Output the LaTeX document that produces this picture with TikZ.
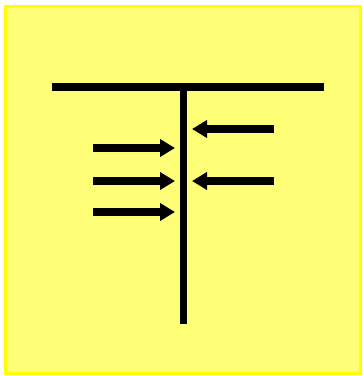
\documentclass[tikz,border=0pt]{standalone}
\usetikzlibrary{arrows.meta}
\definecolor{paleyellow}{RGB}{255,255,119}
\definecolor{rimyellow}{RGB}{255,255,0}
\begin{document}
\begin{tikzpicture}[x=1pt,y=-1pt,
    bar/.style={line width=7.5pt},
    force/.style={line width=8pt,-{Triangle[length=15pt,width=17pt]}}]
            \useasboundingbox (0,0) rectangle (363,376);
            \draw[rimyellow,fill=paleyellow,line width=2.5pt] (5.5,6) rectangle (360.5,373.5);
            % the T
            \coordinate (barL) at (52,87);
            \coordinate (barR) at (324,87);
            \coordinate (top) at (183.5,87);
            \coordinate (foot) at (183.5,324);
            \draw[bar] (barL) -- (barR);
            \draw[bar] (top) -- (foot);
            % forces from the left
            \coordinate (l1) at (93,148);
            \coordinate (l2) at (93,181);
            \coordinate (l3) at (93,212);
            \coordinate (t1) at (175,148);
            \coordinate (t2) at (175,181);
            \coordinate (t3) at (175,212);
            \draw[force] (l1) -- (t1);
            \draw[force] (l2) -- (t2);
            \draw[force] (l3) -- (t3);
            % forces from the right
            \coordinate (r1) at (274,129);
            \coordinate (r2) at (274,181);
            \coordinate (s1) at (192,129);
            \coordinate (s2) at (192,181);
            \draw[force] (r1) -- (s1);
            \draw[force] (r2) -- (s2);
        \end{tikzpicture}
\end{document}
